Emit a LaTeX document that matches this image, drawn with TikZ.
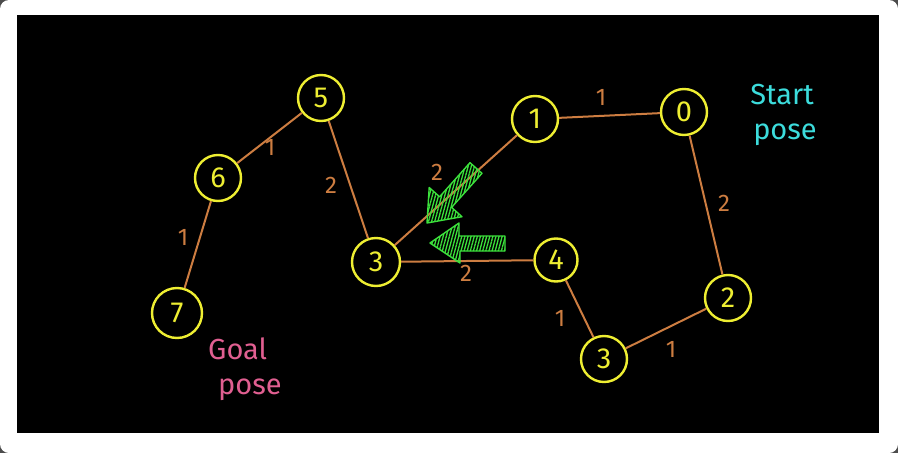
\documentclass[tikz,border=0pt]{standalone}
\usepackage{fontspec}
\setmainfont{Fira Sans}
\usetikzlibrary{patterns.meta}
\definecolor{nodeyellow}{RGB}{238,238,50}
\definecolor{edgeorange}{RGB}{205,125,65}
\definecolor{startcyan}{RGB}{60,220,220}
\definecolor{goalpink}{RGB}{225,95,145}
\definecolor{arrowgreen}{RGB}{60,225,60}
\begin{document}
\begin{tikzpicture}[x=1pt,y=-1pt,
  vertex/.style={circle,draw=nodeyellow,line width=2.4pt,minimum size=46pt,inner sep=0pt,text=nodeyellow,font=\fontsize{29}{30}\selectfont},
  link/.style={draw=edgeorange,line width=2pt},
  wlabel/.style={text=edgeorange,font=\fontsize{24}{24}\selectfont,inner sep=0pt},
  bigarrow/.style={draw=arrowgreen,line width=1.4pt,line join=round,pattern={Lines[angle=75,distance=3pt,line width=1.3pt]},pattern color=arrowgreen}]
\useasboundingbox (0,0) rectangle (898,453);
\fill[black!70] (0,0) rectangle (898,453);
\fill[white,rounded corners=9pt] (0,0) rectangle (898,453);
\fill[black] (17,15) rectangle (879,433);

\node[vertex] (n5) at (321,98) {5};
\node[vertex] (n6) at (218,178) {6};
\node[vertex,minimum size=50pt] (n7) at (177,313) {7};
\node[vertex,minimum size=48pt] (n3a) at (376,262) {3};
\node[vertex] (n1) at (535,119) {1};
\node[vertex] (n0) at (684,112) {0};
\node[vertex,minimum size=43pt] (n4) at (556,260) {4};
\node[vertex] (n2) at (728,298) {2};
\node[vertex] (n3b) at (604,359) {3};

\draw[link] (n5) -- (n6);
\draw[link] (n5) -- (n3a);
\draw[link] (n6) -- (n7);
\draw[link] (n3a) -- (n1);
\draw[link] (n1) -- (n0);
\draw[link] (n0) -- (n2);
\draw[link] (n3a) -- (n4);
\draw[link] (n4) -- (n3b);
\draw[link] (n3b) -- (n2);

\node[wlabel] (w56) at (270,147) {1};
\node[wlabel] (w53) at (331,185) {2};
\node[wlabel] (w67) at (183,237) {1};
\node[wlabel] (w31) at (437,172) {2};
\node[wlabel] (w10) at (601,97) {1};
\node[wlabel] (w02) at (724,203) {2};
\node[wlabel] (w34) at (466,273) {2};
\node[wlabel] (w43) at (560,318) {1};
\node[wlabel] (w32) at (671,349) {1};

\node[text=startcyan,font=\fontsize{29}{29}\selectfont,align=center,inner sep=0pt] (start) at (782,115) {Start\\[6pt]\hspace*{6pt}pose};
\node[text=goalpink,font=\fontsize{29}{29}\selectfont,align=left,inner sep=0pt] (goal) at (245,369) {Goal\\[6pt]\hspace*{10pt}pose};

\draw[bigarrow] (470,162.7) -- (439.6,196.8) -- (429.2,187.5) -- (427,223) -- (462,216.7) -- (451.6,207.4) -- (482,173.3) -- cycle;
\draw[bigarrow] (505,236) -- (459,236) -- (459,223) -- (430,243) -- (460,263) -- (460,251) -- (505,251) -- cycle;
\end{tikzpicture}
\end{document}
